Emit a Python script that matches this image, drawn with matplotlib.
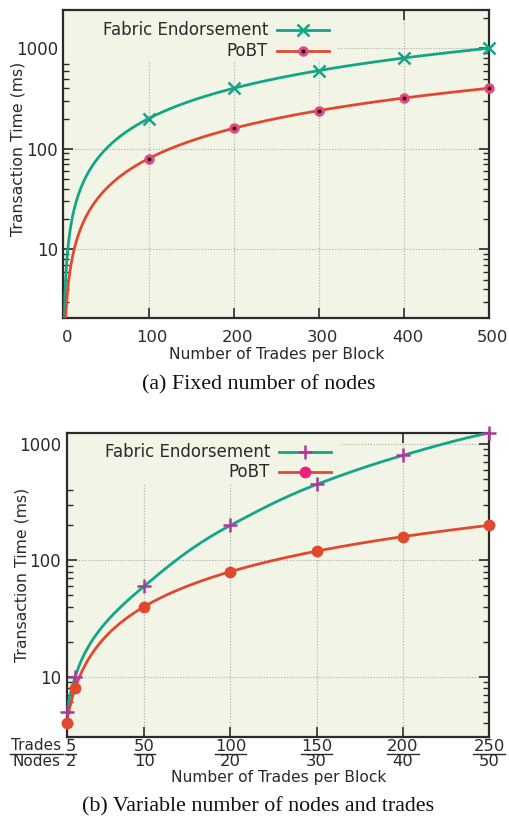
import numpy as np
import matplotlib
matplotlib.use("Agg")
import matplotlib.pyplot as plt
from matplotlib.ticker import FixedLocator, FixedFormatter, NullFormatter, LogLocator
from matplotlib.patches import Rectangle
from matplotlib.lines import Line2D
from matplotlib.transforms import ScaledTranslation

# ---------------- data ----------------
# (a) fixed number of nodes
a_trades = [100, 200, 300, 400, 500]
a_fabric = [200, 400, 600, 800, 1000]
a_pobt = [80, 160, 240, 320, 400]
a_xticks = [0, 100, 200, 300, 400, 500]

# (b) variable number of nodes and trades
b_trades = [5, 10, 50, 100, 150, 200, 250]
b_fabric = [5, 10, 60, 200, 450, 800, 1250]
b_pobt = [4, 8, 40, 80, 120, 160, 200]
b_tick_trades = [5, 50, 100, 150, 200, 250]
b_tick_nodes = [2, 10, 20, 30, 40, 50]

yticks = [10, 100, 1000]
series_names = ["Fabric Endorsement", "PoBT"]
captions = ["(a) Fixed number of nodes", "(b) Variable number of nodes and trades"]
xlabel = "Number of Trades per Block"
ylabel = "Transaction Time (ms)"

# ---------------- style ----------------
BG = "#f2f4e6"
GREEN = "#12a689"
RED = "#e0492f"
PINK = "#e8457a"
MAGENTA = "#a93a9c"
LEG_PINK = "#ec1f7b"
TXT = "#2a2a2a"
GRID = "#ababab"

W, H = 510, 818
fig = plt.figure(figsize=(W / 100, H / 100), dpi=100)
fig.patch.set_facecolor("white")
plt.rcParams["font.family"] = ["DejaVu Sans"]


def rect(l, t, r, b):
    return [l / W, 1 - b / H, (r - l) / W, (b - t) / H]


def fx(px):
    return px / W


def fy(py):
    return 1 - py / H


def smooth_line(x, y, n=600):
    """Monotone cubic (data space) connecting line through the given points."""
    x = np.asarray(x, float)
    y = np.asarray(y, float)
    h = np.diff(x)
    d = np.diff(y) / h
    m = np.zeros_like(y)
    m[0], m[-1] = d[0], d[-1]
    for k in range(1, len(x) - 1):
        if d[k - 1] * d[k] > 0:
            w1 = 2 * h[k] + h[k - 1]
            w2 = h[k] + 2 * h[k - 1]
            m[k] = (w1 + w2) / (w1 / d[k - 1] + w2 / d[k])
    xs = np.linspace(x[0], x[-1], n)
    i = np.clip(np.searchsorted(x, xs) - 1, 0, len(h) - 1)
    t = (xs - x[i]) / h[i]
    h00 = 2 * t**3 - 3 * t**2 + 1
    h10 = t**3 - 2 * t**2 + t
    h01 = -2 * t**3 + 3 * t**2
    h11 = t**3 - t**2
    ys = h00 * y[i] + h10 * h[i] * m[i] + h01 * y[i + 1] + h11 * h[i] * m[i + 1]
    return xs, ys


def style_axes(ax, xlim, ylim, xticks):
    ax.set_facecolor(BG)
    ax.set_yscale("log")
    ax.set_xlim(*xlim)
    ax.set_ylim(*ylim)
    ax.set_axisbelow(True)
    ax.yaxis.set_major_locator(FixedLocator(yticks))
    ax.yaxis.set_major_formatter(FixedFormatter([str(v) for v in yticks]))
    ax.yaxis.set_minor_locator(LogLocator(base=10, subs=np.arange(2, 10)))
    ax.yaxis.set_minor_formatter(NullFormatter())
    ax.xaxis.set_major_locator(FixedLocator(xticks))
    ax.tick_params(which="both", direction="in", top=True, right=True,
                   colors="#2b2b2b", labelcolor=TXT, labelsize=12)
    ax.tick_params(which="major", length=7, width=1.2)
    ax.tick_params(which="minor", length=4, width=1.0)
    ax.tick_params(axis="y", pad=4)
    for s in ax.spines.values():
        s.set_linewidth(1.6)
        s.set_color("#2b2b2b")
    ax.grid(True, which="major", color=GRID, linestyle=(0, (1, 1.6)), linewidth=0.8)


# ================= (a) =================
ax1 = fig.add_axes(rect(63.5, 10, 489, 318))
style_axes(ax1, (0, 500), (2.08, 2400), a_xticks)
ax1.tick_params(axis="x", pad=9, labelsize=11.8)
for lab in ax1.get_xticklabels():
    lab.set_transform(lab.get_transform() + ScaledTranslation(0.035, 0, fig.dpi_scale_trans))

xs, ys = smooth_line([0] + a_trades, [0] + a_fabric)
ax1.plot(xs, ys, color=GREEN, lw=2.0, zorder=3)
xs, ys = smooth_line([0] + a_trades, [0] + a_pobt)
ax1.plot(xs, ys, color=RED, lw=2.0, zorder=3)
ax1.plot(a_trades, a_fabric, ls="none", marker="x", ms=8.5, mew=1.8, color=GREEN,
         zorder=4, clip_on=False)
ax1.plot(a_trades, a_pobt, ls="none", marker="o", ms=5.2, mew=2.3, mfc="#1a1a1a",
         mec=PINK, zorder=4, clip_on=False)

# legend background (hides grid)
ax1.add_patch(Rectangle((fx(63.5), fy(61)), fx(338) - fx(63.5), fy(10) - fy(61),
                        transform=fig.transFigure, facecolor=BG, edgecolor="none", zorder=1))
fig.text(fx(268), fy(30), series_names[0], ha="right", va="center", fontsize=12, color=TXT)
fig.text(fx(268), fy(51), series_names[1], ha="right", va="center", fontsize=12, color=TXT)
fig.add_artist(Line2D([fx(277), fx(329)], [fy(30), fy(30)], color=GREEN, lw=2.0))
fig.add_artist(Line2D([fx(303)], [fy(30)], ls="none", marker="x", ms=8.5, mew=1.8, color=GREEN))
fig.add_artist(Line2D([fx(277), fx(329)], [fy(51), fy(51)], color=RED, lw=2.0))
fig.add_artist(Line2D([fx(303)], [fy(51)], ls="none", marker="o", ms=5.2, mew=2.3,
                      mfc="#1a1a1a", mec=PINK))

fig.text(fx(276.5), fy(355), xlabel, ha="center", va="center", fontsize=11.2, color=TXT)
fig.text(fx(18.5), fy(148.5), ylabel, ha="center", va="center", rotation=90,
         fontsize=11.3, color=TXT)
fig.text(fx(258.5), fy(385), captions[0], ha="center", va="center", fontsize=15.8,
         family="Liberation Serif", color="#111111")

# ================= (b) =================
ax2 = fig.add_axes(rect(66.7, 433.3, 489, 737.3))
style_axes(ax2, (5, 250), (3.0, 1240), b_tick_trades)
ax2.set_xticklabels([])

xs, ys = smooth_line(b_trades, b_fabric)
ax2.plot(xs, ys, color=GREEN, lw=2.0, zorder=3)
xs, ys = smooth_line(b_trades, b_pobt)
ax2.plot(xs, ys, color=RED, lw=2.0, zorder=3)
ax2.plot(b_trades, b_fabric, ls="none", marker="+", ms=10, mew=1.8, color=MAGENTA,
         zorder=4, clip_on=False)
ax2.plot(b_trades, b_pobt, ls="none", marker="o", ms=8.5, mew=0, color=RED,
         zorder=4, clip_on=False)

ax2.add_patch(Rectangle((fx(66.7), fy(484)), fx(340) - fx(66.7), fy(433.3) - fy(484),
                        transform=fig.transFigure, facecolor=BG, edgecolor="none", zorder=1))
fig.text(fx(270), fy(452), series_names[0], ha="right", va="center", fontsize=12, color=TXT)
fig.text(fx(270), fy(472), series_names[1], ha="right", va="center", fontsize=12, color=TXT)
fig.add_artist(Line2D([fx(279), fx(331)], [fy(452), fy(452)], color=GREEN, lw=2.0))
fig.add_artist(Line2D([fx(305)], [fy(452)], ls="none", marker="+", ms=10, mew=1.8, color=MAGENTA))
fig.add_artist(Line2D([fx(279), fx(331)], [fy(472), fy(472)], color=RED, lw=2.0))
fig.add_artist(Line2D([fx(305)], [fy(472)], ls="none", marker="o", ms=8.5, mew=0, color=LEG_PINK))

# fraction tick labels
renderer = fig.canvas.get_renderer()
for i, (t, n) in enumerate(zip(b_tick_trades, b_tick_nodes)):
    xp = ax2.transData.transform((t, 10))[0]
    if i == 0:
        xp += 4
    t1 = fig.text(fx(xp), fy(746.5), str(t), ha="center", va="center", fontsize=11.8, color=TXT)
    t2 = fig.text(fx(xp), fy(761.5), str(n), ha="center", va="center", fontsize=11.8, color=TXT)
    wpx = max(t1.get_window_extent(renderer).width, t2.get_window_extent(renderer).width)
    fig.add_artist(Line2D([fx(xp - wpx / 2), fx(xp + wpx / 2)], [fy(753.5), fy(753.5)],
                          color=TXT, lw=1.0))

fig.text(fx(36.5), fy(745.5), "Trades", ha="center", va="center", fontsize=11, color=TXT)
fig.text(fx(36.5), fy(761), "Nodes", ha="center", va="center", fontsize=11, color=TXT)
fig.add_artist(Line2D([fx(10), fx(63)], [fy(753.5), fy(753.5)], color=TXT, lw=1.0))

fig.text(fx(278.5), fy(777.5), xlabel, ha="center", va="center", fontsize=11.2, color=TXT)
fig.text(fx(22.5), fy(575), ylabel, ha="center", va="center", rotation=90,
         fontsize=11.3, color=TXT)
fig.text(fx(258.5), fy(807), captions[1], ha="center", va="center", fontsize=15.8,
         family="Liberation Serif", color="#111111")

fig.savefig("out.png", dpi=100)
